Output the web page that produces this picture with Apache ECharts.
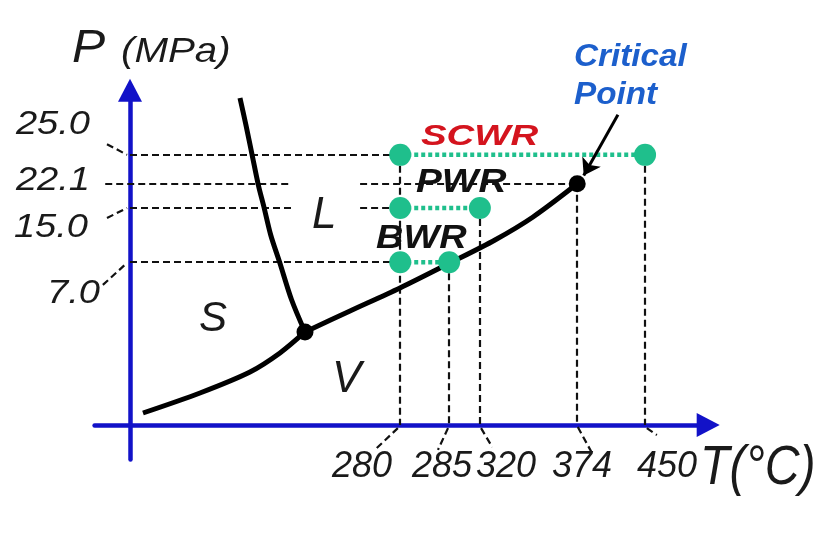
<!DOCTYPE html>
<html><head><meta charset="utf-8">
<script src="https://cdn.jsdelivr.net/npm/echarts@6/dist/echarts.min.js"></script>
<style>html,body{margin:0;padding:0;background:#fff}#c{width:819px;height:538px}</style>
</head><body><div id="c"></div>
<script>
// ---- data (schematic phase diagram; axis positions are schematic, not linear) ----
const tempLabels = ['280', '285', '320', '374', '450'];
const tempPos = [45.8, 54.1, 59.3, 75.8, 87.3];
const presLabels = ['25.0', '22.1', '15.0', '7.0'];
const presPos = [78.3, 69.9, 62.9, 47.2];
const reactorNames = ['SCWR', 'PWR', 'BWR'];
const reactorPressure = ['25.0', '15.0', '7.0'];
const reactorTempLow = ['280', '280', '280'];
const reactorTempHigh = ['450', '320', '285'];
const meltingCurve = [[18.64, 94.78], [19.65, 86.96], [20.70, 78.26], [21.75, 69.57], [22.70, 63.19], [23.85, 55.07], [25.35, 47.25], [27.40, 36.23], [29.66, 26.96]];
const sublimationCurve = [[2.20, 3.48], [11.86, 9.28], [20.34, 15.36], [25.42, 20.87], [29.66, 26.96]];
const vaporCurve = [[29.66, 26.96], [37.29, 33.04], [45.76, 39.71], [54.24, 46.96], [61.86, 53.62], [68.31, 60.29], [75.8, 69.9]];
const triplePoint = [29.66, 26.96];
const criticalTemp = '374';
const criticalPres = '22.1';
// guide lines: pressure lines and the temperature each one reaches
const hGuideTo = ['280', '374', '280', '280'];
const vGuideFrom = ['25.0', '7.0', '15.0', '22.1', '25.0'];

const T = l => tempPos[tempLabels.indexOf(l)];
const P = l => presPos[presLabels.indexOf(l)];

const BLUE = '#1212c8', GREEN = '#1fbf8c', RED = '#d4141e', CBLUE = '#1c5fcc';
const FONT = '"Liberation Sans", Arial, sans-serif';

// layout of guide segments
const guides = [];
presLabels.forEach((p, i) => {
  const y = P(p);
  const start = p === '22.1' ? -4.2 : 0;
  const end = T(hGuideTo[i]);
  if (p === '22.1' || p === '15.0') {
    guides.push([[start, y], [27.5, y]]);
    guides.push([[39.0, y], [end, y]]);
  } else {
    guides.push([[start, y], [end, y]]);
  }
});
tempLabels.forEach((t, i) => {
  guides.push([[T(t), P(vGuideFrom[i])], [T(t), 0]]);
});
// small leader strokes between tick labels and axes
const leaders = [
  [[-3.9, 81.4], [-0.5, 78.3]],
  [[-3.9, 60.0], [-0.5, 62.9]],
  [[-4.6, 40.6], [-0.5, 47.0]],
  [[45.4, -0.9], [41.5, -7.2]],
  [[53.9, -0.9], [52.2, -7.2]],
  [[59.5, -0.9], [61.4, -6.4]],
  [[75.9, -0.6], [78.3, -8.1]],
  [[87.6, -0.9], [89.3, -2.9]]
];

const chart = echarts.init(document.getElementById('c'), null, {renderer: 'canvas'});

const series = [];
series.push({
  type: 'lines', coordinateSystem: 'cartesian2d', z: 2, silent: true,
  data: guides.concat(leaders).map(c => ({coords: c})),
  lineStyle: {color: '#111', width: 2.2, type: [7, 4], opacity: 1}
});
[meltingCurve, sublimationCurve, vaporCurve].forEach(c => {
  series.push({
    type: 'line', data: c, smooth: 0.3, showSymbol: false, z: 4,
    lineStyle: {color: '#000', width: 5}
  });
});
reactorNames.forEach((n, i) => {
  series.push({
    type: 'line', name: n, z: 5,
    data: [[T(reactorTempLow[i]), P(reactorPressure[i])], [T(reactorTempHigh[i]), P(reactorPressure[i])]],
    symbol: 'circle', symbolSize: 22, showSymbol: true,
    itemStyle: {color: GREEN, opacity: 1},
    lineStyle: {color: GREEN, width: 4.5, type: [4, 3]}
  });
});
series.push({
  type: 'scatter', z: 6, symbolSize: 17, itemStyle: {color: '#000', opacity: 1},
  data: [triplePoint, [T(criticalTemp), P(criticalPres)]]
});
series.push({
  type: 'lines', coordinateSystem: 'cartesian2d', z: 7, silent: true,
  symbol: ['none', 'arrow'], symbolSize: 16,
  data: [{coords: [[82.7, 89.9], [76.9, 72.3]]}],
  lineStyle: {color: '#000', width: 3, type: 'solid', opacity: 1}
});

function txt(x, y, text, size, opts) {
  opts = opts || {};
  return {
    type: 'text', z: 20, silent: true,
    x: x, y: y, scaleX: opts.sx || 1,
    style: {
      x: 0, y: 0, text: text,
      font: (opts.bold ? 'italic bold ' : 'italic ') + size + 'px ' + FONT,
      fill: opts.color || '#1a1a1a',
      textAlign: opts.align || 'left', textVerticalAlign: 'middle'
    }
  };
}

const xLabelCenters = [362, 442, 506, 582, 667];
const yLabelRight = [[90, 125], [90, 181], [88, 228], [100, 294]];

const graphics = [];
tempLabels.forEach((t, i) => graphics.push(txt(xLabelCenters[i], 467, t, 36, {align: 'center'})));
presLabels.forEach((p, i) => graphics.push(txt(yLabelRight[i][0], yLabelRight[i][1], p, 34, {align: 'right', sx: 1.12})));
graphics.push(txt(72, 49, 'P', 46, {sx: 1.08}));
graphics.push(txt(121, 52, '(MPa)', 35, {sx: 1.15}));
graphics.push(txt(700, 468, 'T(°C)', 56, {sx: 0.86}));
graphics.push(txt(574, 57, 'Critical', 32, {bold: true, color: CBLUE, sx: 1.04}));
graphics.push(txt(574, 95, 'Point', 32, {bold: true, color: CBLUE, sx: 1.04}));
graphics.push(txt(421, 137, reactorNames[0], 30, {bold: true, color: RED, sx: 1.28}));
graphics.push(txt(416, 183, reactorNames[1], 34, {bold: true, color: '#111', sx: 1.14}));
graphics.push(txt(376, 239, reactorNames[2], 33, {bold: true, color: '#111', sx: 1.15}));
graphics.push(txt(312, 216, 'L', 44));
graphics.push(txt(199, 319, 'S', 42));
graphics.push(txt(332, 380, 'V', 44));

chart.setOption({
  animation: false,
  backgroundColor: '#fff',
  grid: {left: 94.6, right: 110.8, top: 90.35, bottom: 78.5, containLabel: false},
  xAxis: {
    type: 'value', min: -6, max: 98,
    axisLine: {show: true, onZero: true, symbol: ['none', 'triangle'], symbolSize: [24, 23], lineStyle: {color: BLUE, width: 4.5}},
    axisTick: {show: false}, axisLabel: {show: false}, splitLine: {show: false}
  },
  yAxis: {
    type: 'value', min: -10, max: 97,
    axisLine: {show: true, onZero: true, symbol: ['none', 'triangle'], symbolSize: [24, 23], lineStyle: {color: BLUE, width: 4.5}},
    axisTick: {show: false}, axisLabel: {show: false}, splitLine: {show: false}
  },
  series: series,
  graphic: graphics
});
</script>
</body></html>
